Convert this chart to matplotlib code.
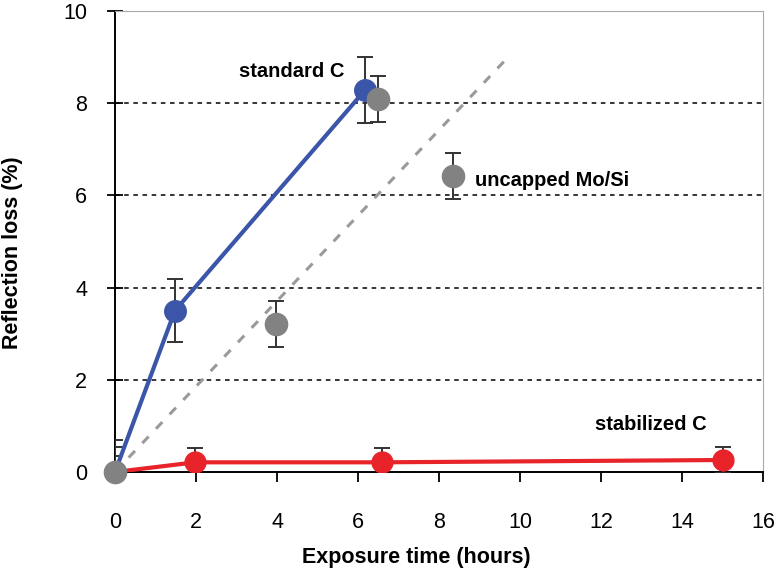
import matplotlib.pyplot as plt
import numpy as np

plt.rcParams['font.family'] = ['Liberation Sans', 'DejaVu Sans']

# standard C
std_x = [0, 1.48, 6.17]
std_y = [0.0, 3.5, 8.28]
std_err = [0.7, 0.68, 0.72]

# uncapped Mo/Si
unc_x = [0, 3.98, 6.49, 8.35]
unc_y = [0.0, 3.21, 8.1, 6.42]
unc_err = [0.55, 0.5, 0.5, 0.5]

# uncapped trend line
trend_x = [0, 9.6]
trend_y = [0, 8.9]

# stabilized C
stab_x = [0, 1.98, 6.59, 15.0]
stab_y = [0.0, 0.21, 0.21, 0.26]
stab_err = [0.35, 0.31, 0.31, 0.29]

blue = '#3b55a8'
grey = '#828282'
red = '#e8242a'

fig = plt.figure(figsize=(7.78, 5.68), dpi=100)
ax = fig.add_axes([115/778, 1 - 472/568, (763-115)/778, (472-11)/568])

for yv in [2, 4, 6, 8]:
	ax.axhline(yv, color='black', lw=1.1, ls=(0, (3, 3)), zorder=1)

ax.plot(trend_x, trend_y, color='#9a9a9a', lw=2.2, ls=(0, (3, 3.5)), zorder=2)

ax.errorbar(stab_x, stab_y, yerr=stab_err, fmt='none', ecolor='#333333', elinewidth=1.4, capsize=6, capthick=1.4, zorder=3)
ax.plot(stab_x, stab_y, color=red, lw=3, marker='o', ms=15, zorder=4)

ax.errorbar(std_x, std_y, yerr=std_err, fmt='none', ecolor='#333333', elinewidth=1.4, capsize=6, capthick=1.4, zorder=3)
ax.plot(std_x, std_y, color=blue, lw=3, marker='o', ms=15.5, zorder=5)

ax.errorbar(unc_x, unc_y, yerr=unc_err, fmt='none', ecolor='#333333', elinewidth=1.4, capsize=6, capthick=1.4, zorder=3)
ax.plot(unc_x, unc_y, ls='none', color=grey, marker='o', ms=16, zorder=6, clip_on=False)

ax.text(4.37, 8.68, 'standard C', fontsize=14.5, fontweight='bold', ha='center', va='center')
ax.text(8.9, 6.33, 'uncapped Mo/Si', fontsize=14.5, fontweight='bold', ha='left', va='center')
ax.text(11.85, 1.02, 'stabilized C', fontsize=14.5, fontweight='bold', ha='left', va='center')

ax.set_xlim(0, 16)
ax.set_ylim(0, 10)
ax.set_xticks(np.arange(0, 17, 2))
ax.set_yticks(np.arange(0, 11, 2))
ax.tick_params(axis='x', direction='out', length=7, width=1.3, labelsize=15.5, pad=22)
ax.tick_params(axis='y', direction='inout', length=12, width=1.3, labelsize=15.5, pad=14)

ax.spines['left'].set_linewidth(1.4)
ax.spines['bottom'].set_linewidth(1.4)
ax.spines['top'].set_color('#aaaaaa')
ax.spines['right'].set_color('#aaaaaa')

ax.set_xlabel('Exposure time (hours)', fontsize=15.5, fontweight='bold')
ax.set_ylabel('Reflection loss (%)', fontsize=15.5, fontweight='bold')
ax.xaxis.set_label_coords(0.4645, -0.163)
ax.yaxis.set_label_coords(-0.142, 0.475)

plt.savefig('out.png', dpi=100)
